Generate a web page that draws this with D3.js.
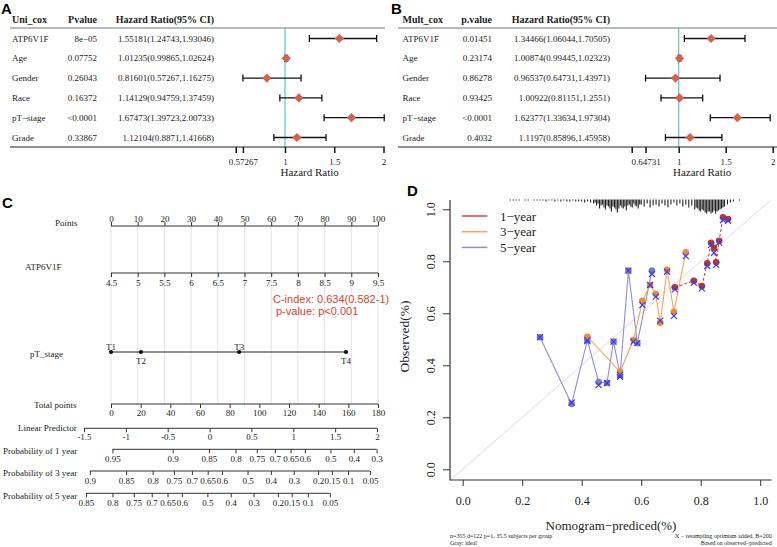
<!DOCTYPE html>
<html>
<head>
<meta charset="utf-8">
<script src="https://cdn.jsdelivr.net/npm/d3@7"></script>
<style>
body { margin: 0; background: #fff; }
text { font-family: "Liberation Serif", "Times New Roman", serif; fill: #222; }
</style>
</head>
<body>
<script>
// ---- A: univariate cox ----
var rowNames = ["ATP6V1F", "Age", "Gender", "Race", "pT\u2212stage", "Grade"];
var uniP = ["8e\u221205", "0.07752", "0.26043", "0.16372", "<0.0001", "0.33867"];
var uniHR = [1.55181, 1.01235, 0.81601, 1.14129, 1.67473, 1.12104];
var uniLow = [1.24743, 0.99865, 0.57267, 0.94759, 1.39723, 0.8871];
var uniHigh = [1.93046, 1.02624, 1.16275, 1.37459, 2.00733, 1.41668];
var uniTicks = [0.5, 0.57267, 1, 1.5, 2];
var uniTickLabels = ["", "0.57267", "1", "1.5", "2"];

// ---- B: multivariate cox ----
var multP = ["0.01451", "0.23174", "0.86278", "0.93425", "<0.0001", "0.4032"];
var multHR = [1.34466, 1.00874, 0.96537, 1.00922, 1.62377, 1.1197];
var multLow = [1.06044, 0.99445, 0.64731, 0.81151, 1.33634, 0.85896];
var multHigh = [1.70505, 1.02323, 1.43971, 1.2551, 1.97304, 1.45958];
var multTicks = [0.5, 0.64731, 1, 1.5, 2];
var multTickLabels = ["", "0.64731", "1", "1.5", "2"];

// ---- C: nomogram ----
var pointTicks = [0, 10, 20, 30, 40, 50, 60, 70, 80, 90, 100];
var atpTicks = [4.5, 5, 5.5, 6, 6.5, 7, 7.5, 8, 8.5, 9, 9.5];
var stageLevels = ["T1", "T2", "T3", "T4"];
var stagePoints = [0, 11.2, 48, 88];
var totalTicks = [0, 20, 40, 60, 80, 100, 120, 140, 160, 180];
var lpTicks = [-1.5, -1, -0.5, 0, 0.5, 1, 1.5, 2];
var prob1Ticks = [0.95, 0.9, 0.85, 0.8, 0.75, 0.7, 0.65, 0.6, 0.5, 0.4, 0.3];
var prob3Ticks = [0.9, 0.85, 0.8, 0.75, 0.7, 0.65, 0.6, 0.5, 0.4, 0.3, 0.2, 0.15, 0.1, 0.05];
var prob5Ticks = [0.85, 0.8, 0.75, 0.7, 0.65, 0.6, 0.5, 0.4, 0.3, 0.2, 0.15, 0.1, 0.05];
// baseline offsets of log(-log(S)) vs linear predictor
var probOffset = { y1: -1.81, y3: -0.82, y5: -0.34 };

// ---- D: calibration ----
var calPred5 = [0.26, 0.366, 0.419, 0.457, 0.485, 0.507, 0.529, 0.557, 0.587, 0.636];
var calObs5 = [0.508, 0.251, 0.497, 0.336, 0.333, 0.491, 0.363, 0.764, 0.485, 0.764];
var calCor5 = [0.508, 0.257, 0.493, 0.324, 0.331, 0.491, 0.356, 0.764, 0.485, 0.751];
var calPred3 = [0.419, 0.529, 0.574, 0.604, 0.63, 0.649, 0.664, 0.687, 0.71, 0.75];
var calObs3 = [0.51, 0.375, 0.497, 0.648, 0.709, 0.674, 0.564, 0.767, 0.606, 0.835];
var calCor3 = [0.497, 0.363, 0.491, 0.632, 0.709, 0.664, 0.572, 0.76, 0.59, 0.82];
var calPred1 = [0.713, 0.777, 0.804, 0.822, 0.835, 0.845, 0.852, 0.862, 0.875, 0.892];
var calObs1 = [0.7, 0.725, 0.705, 0.792, 0.871, 0.852, 0.796, 0.879, 0.969, 0.963];
var calCor1 = [0.692, 0.718, 0.696, 0.782, 0.863, 0.833, 0.786, 0.872, 0.959, 0.956];
var calTicks = [0, 0.2, 0.4, 0.6, 0.8, 1];
var legendLabels = ["1\u2212year", "3\u2212year", "5\u2212year"];

// histogram of predictions along the top
var rugX = [0.16,0.17,0.18,0.19,0.21,0.22,0.24,0.25,0.26,0.27,0.28,0.29,0.30,0.31,0.32,0.33,0.34,0.35,0.36,0.37,0.38,
            0.39,0.40,0.41,0.42,0.43,0.44,0.445,0.45,0.455,0.46,0.465,0.47,0.475,0.48,0.485,0.49,0.495,0.50,0.505,0.51,0.515,0.52,0.525,0.53,0.535,0.54,0.545,0.55,0.555,0.56,0.565,0.57,0.575,0.58,
            0.585,0.59,0.595,0.60,0.61,0.62,0.63,0.64,0.65,0.66,0.67,0.68,0.69,0.70,0.71,0.72,0.73,0.74,0.75,0.76,0.77,0.78,
            0.785,0.79,0.795,0.80,0.805,0.81,0.815,0.82,0.825,0.83,0.835,0.84,0.845,0.85,0.855,0.86,0.865,0.87,0.875,0.88,0.89,0.90,0.91,0.93];
var rugN = [1,1,1,1,1,1,1,1,1,1,2,1,1,2,1,2,1,2,2,1,2,
            2,2,3,2,3,4,3,6,4,9,6,5,8,10,6,7,9,12,7,8,10,13,9,6,8,9,7,11,6,5,7,8,4,6,
            7,9,5,5,7,4,8,6,5,7,4,6,8,5,3,6,4,7,5,8,6,10,
            8,9,11,12,10,11,13,14,12,12,14,13,11,14,12,11,10,9,8,7,5,3,2,1];

var svg = d3.select("body").append("svg")
    .attr("width", 777)
    .attr("height", 547);

var serif = "'Liberation Serif', 'Times New Roman', serif";
var sans = "'Liberation Sans', Arial, sans-serif";

// panel letters
[["A", 1, 14], ["B", 391, 14], ["C", 2, 208], ["D", 407, 196]].forEach(function(l) {
    svg.append("text")
        .attr("x", l[1]).attr("y", l[2])
        .style("font-family", sans)
        .style("font-weight", "bold")
        .style("font-size", "15px")
        .style("fill", "#000")
        .text(l[0]);
});

//forest plot drawer
function drawForest(title, pHead, pvals, hr, low, high, ticks, tickLabels, cfg)
{
    var g = svg.append("g");
    var x = d3.scaleLinear().domain([0.5, 2]).range(cfg.range);
    var y = d3.scalePoint().domain(rowNames).range([38.5, 137.5]);

    // header
    var heads = [[title, cfg.nameX, "start"], [pHead, cfg.pRight, "end"], ["Hazard Ratio(95% CI)", cfg.hrRight, "end"]];
    heads.forEach(function(h) {
        g.append("text")
            .attr("x", h[1]).attr("y", 22.5)
            .attr("text-anchor", h[2])
            .style("font-weight", "bold")
            .style("font-size", "10px")
            .text(h[0]);
    });
    g.append("line")
        .attr("x1", cfg.left).attr("x2", cfg.right)
        .attr("y1", 28).attr("y2", 28)
        .attr("stroke", "#777").attr("stroke-width", 1);

    // reference line at HR = 1
    g.append("line")
        .attr("x1", x(1)).attr("x2", x(1))
        .attr("y1", 28).attr("y2", 147)
        .attr("stroke", "#5BC3D8").attr("stroke-width", 1.2);

    rowNames.forEach(function(name, i) {
        var yy = y(name);
        g.append("text").attr("x", cfg.nameX).attr("y", yy).attr("dy", "0.35em")
            .style("font-size", "9px").text(name);
        g.append("text").attr("x", cfg.pRight).attr("y", yy).attr("dy", "0.35em")
            .attr("text-anchor", "end").style("font-size", "9px").text(pvals[i]);
        g.append("text").attr("x", cfg.hrRight).attr("y", yy).attr("dy", "0.35em")
            .attr("text-anchor", "end").style("font-size", "9px")
            .text(String(hr[i]) + "(" + String(low[i]) + "," + String(high[i]) + ")");

        // CI
        g.append("line")
            .attr("x1", x(low[i])).attr("x2", x(high[i]))
            .attr("y1", yy).attr("y2", yy)
            .attr("stroke", "#111").attr("stroke-width", 1.3);
        [low[i], high[i]].forEach(function(v) {
            g.append("line")
                .attr("x1", x(v)).attr("x2", x(v))
                .attr("y1", yy - 3.5).attr("y2", yy + 3.5)
                .attr("stroke", "#111").attr("stroke-width", 1.3);
        });
        g.append("path")
            .attr("transform", "translate(" + x(hr[i]) + "," + yy + ")")
            .attr("d", "M0,-4.6L4.6,0L0,4.6L-4.6,0Z")
            .attr("fill", "#D4604F");
    });

    // bottom axis
    var ax = g.append("g")
        .attr("transform", "translate(0,147)")
        .call(d3.axisBottom(x).tickValues(ticks)
            .tickFormat(function(d, i) { return tickLabels[i]; })
            .tickSize(6).tickPadding(6));
    ax.select(".domain").remove();
    ax.selectAll(".tick line").attr("stroke", "#111").attr("stroke-width", 1.5);
    ax.selectAll("text").style("font-family", serif).style("font-size", "9px").style("fill", "#222");
    g.append("line")
        .attr("x1", cfg.left).attr("x2", cfg.right)
        .attr("y1", 147).attr("y2", 147)
        .attr("stroke", "#222").attr("stroke-width", 1.2);

    g.append("text")
        .attr("x", (cfg.range[0] + cfg.range[1]) / 2).attr("y", 176)
        .attr("text-anchor", "middle")
        .style("font-size", "11px")
        .text("Hazard Ratio");
}

drawForest("Uni_cox", "Pvalue", uniP, uniHR, uniLow, uniHigh, uniTicks, uniTickLabels,
    {left: 10, right: 385, nameX: 12, pRight: 97, hrRight: 214, range: [235.75, 383.5]});
drawForest("Mult_cox", "p.value", multP, multHR, multLow, multHigh, multTicks, multTickLabels,
    {left: 398, right: 777, nameX: 402.5, pRight: 492, hrRight: 610, range: [631.7, 772.7]});

// ---------------- nomogram ----------------
var nomo = svg.append("g");
var ptsX = d3.scaleLinear().domain([0, 100]).range([111, 378]);
var atpX = d3.scaleLinear().domain([4.5, 9.5]).range([111, 378]);
var totX = d3.scaleLinear().domain([0, 180]).range([111, 378]);
var lpX = d3.scaleLinear().domain([-1.5, 2]).range([84, 377]);

function toLp(p, c) { return Math.log(-Math.log(p)) - c; }

// grid lines
nomo.selectAll(".grid")
    .data(pointTicks)
    .enter().append("line")
    .attr("x1", function(d) { return ptsX(d); })
    .attr("x2", function(d) { return ptsX(d); })
    .attr("y1", 226).attr("y2", 404)
    .attr("stroke", "#E2E2E2").attr("stroke-width", 1);

function nomoAxis(scale, values, labels, yLine, up, pad)
{
    var axis = (up ? d3.axisTop(scale) : d3.axisBottom(scale))
        .tickValues(values)
        .tickFormat(function(d, i) { return labels[i]; })
        .tickSize(4).tickPadding(pad);
    var g = nomo.append("g").attr("transform", "translate(0," + yLine + ")").call(axis);
    g.select(".domain").remove();
    g.selectAll(".tick line").attr("stroke", "#333");
    g.selectAll("text").style("font-family", serif).style("font-size", "9px").style("fill", "#222");
    var ext = d3.extent(values.map(function(v) { return scale(v); }));
    g.append("line").attr("x1", ext[0]).attr("x2", ext[1])
        .attr("y1", 0).attr("y2", 0).attr("stroke", "#333");
}

function rowLabel(txt, x, y)
{
    nomo.append("text").attr("x", x).attr("y", y).style("font-size", "9px").text(txt);
}

nomoAxis(ptsX, pointTicks, pointTicks, 226, true, 0);
rowLabel("Points", 55, 226);

nomoAxis(atpX, atpTicks, atpTicks, 273, false, 3);
rowLabel("ATP6V1F", 25, 269.5);

// pT stage
var stageY = 352;
nomo.append("line")
    .attr("x1", ptsX(d3.min(stagePoints))).attr("x2", ptsX(d3.max(stagePoints)))
    .attr("y1", stageY).attr("y2", stageY)
    .attr("stroke", "#222");
nomo.selectAll(".stage")
    .data(stagePoints)
    .enter().append("circle")
    .attr("cx", function(d) { return ptsX(d); })
    .attr("cy", stageY)
    .attr("r", 2.1)
    .attr("fill", "#111");
nomo.selectAll(".stageLab")
    .data(stageLevels)
    .enter().append("text")
    .attr("x", function(d, i) { return ptsX(stagePoints[i]); })
    .attr("y", function(d, i) { return i % 2 == 0 ? stageY - 2.5 : stageY + 12; })
    .attr("text-anchor", "middle")
    .style("font-size", "9px")
    .text(function(d) { return d; });
rowLabel("pT_stage", 30, 357);

nomoAxis(totX, totalTicks, totalTicks, 404, false, 2);
rowLabel("Total points", 34, 408);

nomoAxis(lpX, lpTicks, lpTicks, 428.3, false, 1);
rowLabel("Linear Predictor", 18, 430.5);

nomoAxis(lpX, prob1Ticks.map(function(p) { return toLp(p, probOffset.y1); }), prob1Ticks, 449.3, false, 2.8);
rowLabel("Probability of 1 year", 3, 453.5);
nomoAxis(lpX, prob3Ticks.map(function(p) { return toLp(p, probOffset.y3); }), prob3Ticks, 471, false, 2.6);
rowLabel("Probability of 3 year", 3, 476);
nomoAxis(lpX, prob5Ticks.map(function(p) { return toLp(p, probOffset.y5); }), prob5Ticks, 493.3, false, 2.8);
rowLabel("Probability of 5 year", 3, 498.5);

// c-index
nomo.append("text").attr("x", 273).attr("y", 303)
    .style("font-family", sans).style("font-size", "11px").style("fill", "#E2412F")
    .text("C-index: 0.634(0.582-1)");
nomo.append("text").attr("x", 276).attr("y", 315)
    .style("font-family", sans).style("font-size", "11px").style("fill", "#E2412F")
    .text("p-value: p<0.001");

// ---------------- calibration ----------------
var cal = svg.append("g");
var cx = d3.scaleLinear().domain([-0.0427, 1.0387]).range([450, 771.7]);
var cy = d3.scaleLinear().domain([-0.0412, 1.0358]).range([480, 200]);

// ideal line
cal.append("line")
    .attr("x1", cx(-0.0412)).attr("y1", cy(-0.0412))
    .attr("x2", cx(1.0358)).attr("y2", cy(1.0358))
    .attr("stroke", "#DADADA").attr("stroke-width", 1);

// rug histogram
var rugH = d3.scaleLinear().domain([0, 14]).range([0, 14]);
cal.selectAll(".rug")
    .data(rugX)
    .enter().append("line")
    .attr("x1", function(d) { return cx(d); })
    .attr("x2", function(d) { return cx(d); })
    .attr("y1", 199.5)
    .attr("y2", function(d, i) { return 199.5 + rugH(rugN[i]); })
    .attr("stroke", "#222").attr("stroke-width", 1.1);

// axes (bty = "l")
var yAx = cal.append("g").attr("transform", "translate(450,0)")
    .call(d3.axisLeft(cy).tickValues(calTicks).tickFormat(d3.format(".1f")).tickSize(7));
yAx.select(".domain").remove();
yAx.selectAll(".tick line").attr("stroke", "#333");
yAx.selectAll("text")
    .attr("x", 0).attr("y", -15).attr("dy", null)
    .attr("text-anchor", "middle")
    .attr("transform", "rotate(-90)")
    .style("font-family", serif).style("font-size", "12px").style("fill", "#222");

var xAx = cal.append("g").attr("transform", "translate(0,480)")
    .call(d3.axisBottom(cx).tickValues(calTicks).tickFormat(d3.format(".1f")).tickSize(6).tickPadding(10));
xAx.select(".domain").remove();
xAx.selectAll(".tick line").attr("stroke", "#333");
xAx.selectAll("text").style("font-family", serif).style("font-size", "12px").style("fill", "#222");

cal.append("path")
    .attr("d", "M450,200L450,480L771.7,480")
    .attr("fill", "none").attr("stroke", "#333").attr("stroke-width", 1.2);

// series
var series = [
    {pred: calPred5, obs: calObs5, cor: calCor5, line: "#8E8ED4", dot: "#7C7CC4", dash: null},
    {pred: calPred3, obs: calObs3, cor: calCor3, line: "#F2A55C", dot: "#E88B38", dash: null},
    {pred: calPred1, obs: calObs1, cor: calCor1, line: "#D4493E", dot: "#B8392C", dash: "3,2"}
];

var calLine = d3.line()
    .x(function(d) { return cx(d[0]); })
    .y(function(d) { return cy(d[1]); });

series.forEach(function(s) {
    var pts = s.pred.map(function(p, i) { return [p, s.obs[i], s.cor[i]]; });
    cal.append("path")
        .datum(pts)
        .attr("d", calLine)
        .attr("fill", "none")
        .attr("stroke", s.line)
        .attr("stroke-width", 1.1)
        .attr("stroke-dasharray", s.dash);
    cal.selectAll(null)
        .data(pts)
        .enter().append("circle")
        .attr("cx", function(d) { return cx(d[0]); })
        .attr("cy", function(d) { return cy(d[1]); })
        .attr("r", 3.3)
        .attr("fill", s.dot);
    cal.selectAll(null)
        .data(pts)
        .enter().append("path")
        .attr("transform", function(d) { return "translate(" + cx(d[0]) + "," + cy(d[2]) + ")"; })
        .attr("d", "M-3,-3L3,3M-3,3L3,-3")
        .attr("stroke", "#3B3BF2")
        .attr("stroke-width", 1.2);
});

// legend
var legColors = ["#D4493E", "#F2A55C", "#8E8ED4"];
legendLabels.forEach(function(l, i) {
    var ly = 216 + i * 15.7;
    cal.append("line")
        .attr("x1", 461.7).attr("x2", 487.3)
        .attr("y1", ly).attr("y2", ly)
        .attr("stroke", legColors[i]).attr("stroke-width", 1.5);
    cal.append("text")
        .attr("x", 500).attr("y", ly + 4.5)
        .style("font-size", "13px")
        .text(l);
});

// labels
cal.append("text")
    .attr("x", 611).attr("y", 530)
    .attr("text-anchor", "middle")
    .style("font-size", "13px")
    .text("Nomogram\u2212prediced(%)");
cal.append("text")
    .attr("transform", "translate(409,336.5) rotate(-90)")
    .attr("text-anchor", "middle")
    .style("font-size", "13.5px")
    .text("Observed(%)");

var small = [
    ["n=355 d=122 p=1, 35.5 subjects per group", 450, 537.5, "start"],
    ["Gray: ideal", 450, 544.5, "start"],
    ["X \u2212 resampling optimism added, B=200", 771.7, 537.5, "end"],
    ["Based on observed\u2212predicted", 771.7, 544.5, "end"]
];
small.forEach(function(t) {
    cal.append("text")
        .attr("x", t[1]).attr("y", t[2])
        .attr("text-anchor", t[3])
        .style("font-size", "6px")
        .text(t[0]);
});
</script>
</body>
</html>
